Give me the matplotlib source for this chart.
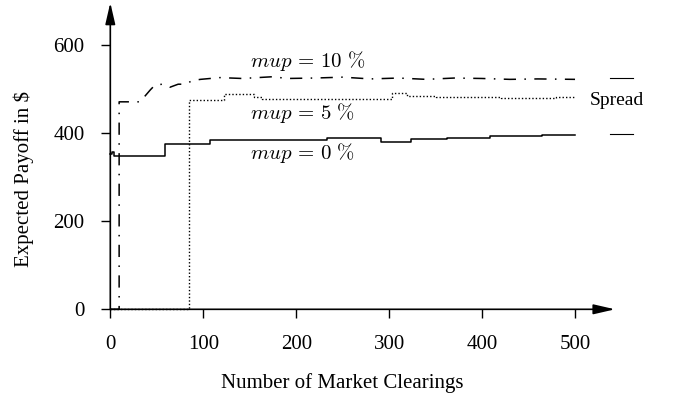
import matplotlib
matplotlib.use("Agg")
import matplotlib.pyplot as plt

plt.rcParams['font.family'] = ['Liberation Serif', 'DejaVu Serif']
plt.rcParams['mathtext.fontset'] = 'cm'

# mup = 0 % (step series)
x0 = [0, 2, 4, 59, 107, 233, 291, 323, 362, 408, 465, 500]
y0 = [352, 356, 348, 375, 384, 390, 380, 386, 388, 393, 396, 396]

# mup = 5 % (step series)
x5 = [0, 85, 122, 155, 163, 303, 319, 350, 420, 480, 500]
y5 = [0, 475, 488, 483, 478, 490, 485, 482, 479, 482, 482]

# mup = 10 %
x10 = [0, 9.5, 9.5, 32, 43, 48, 56, 64, 73, 81, 88, 97, 118, 142, 175, 190, 220,
       250, 280, 310, 340, 370, 400, 430, 460, 500]
y10 = [0, 0, 471, 471, 498, 509, 511, 504, 511, 511, 519, 522, 526, 524, 528, 524,
       525, 527, 523, 525, 522, 525, 524, 522, 523, 522]

spread_levels = [525, 398]
xticks = [0, 100, 200, 300, 400, 500]
yticks = [0, 200, 400, 600]

fig = plt.figure(figsize=(6.73, 3.99), dpi=100)
ax = fig.add_axes([0.1639, 0.2248, 0.9138 - 0.1639, 0.9932 - 0.2248])
ax.set_xlim(0, 543)
ax.set_ylim(0, 696)

ax.plot(x0, y0, drawstyle='steps-post', color='black', lw=1.1, clip_on=False)
ax.plot(x5, y5, drawstyle='steps-post', color='black', lw=1.0,
        linestyle=(0, (1, 1.5)), clip_on=False)
ax.plot(x10, y10, color='black', lw=1.1, linestyle=(0, (8, 5.5, 1, 5.5)), clip_on=False)

for lv in spread_levels:
    ax.plot([538, 562], [lv, lv], color='black', lw=0.8, clip_on=False)
ax.text(545, 475, 'Spread', ha='center', va='center', fontsize=14)

ax.text(150.6, 564, r'$mup\,=\,10\ \%$', ha='left', va='center', fontsize=15)
ax.text(150.6, 445, r'$mup\,=\,5\ \%$', ha='left', va='center', fontsize=15)
ax.text(150.6, 355, r'$mup\,=\,0\ \%$', ha='left', va='center', fontsize=15)

for s in ax.spines.values():
    s.set_visible(False)
ax.set_xticks(xticks)
ax.set_yticks(yticks)
ax.tick_params(direction='out', length=6.5, width=1.0, labelsize=15, pad=12)

arrow = dict(arrowstyle='-|>,head_length=1.3,head_width=0.3', color='black',
             lw=1.2, mutation_scale=10, shrinkA=0, shrinkB=0)
ax.annotate('', xy=(1, 0), xytext=(0, 0), xycoords='axes fraction',
            textcoords='axes fraction', arrowprops=arrow)
ax.annotate('', xy=(0, 1), xytext=(0, 0), xycoords='axes fraction',
            textcoords='axes fraction', arrowprops=arrow)

ax.set_xlabel('Number of Market Clearings', fontsize=15, labelpad=14)
ax.set_ylabel('Expected Payoff in $', fontsize=15, labelpad=14)
ax.xaxis.label.set_x(0.459)
ax.yaxis.label.set_y(0.4266)

fig.savefig('out.png', dpi=100)
